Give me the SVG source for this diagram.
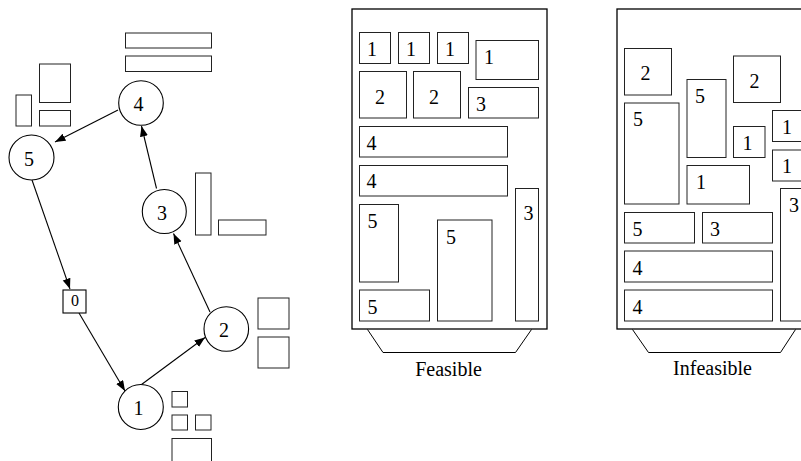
<svg xmlns="http://www.w3.org/2000/svg" width="801" height="461" viewBox="0 0 801 461">
<style>
text{font-family:"Liberation Serif","Times New Roman",serif;font-size:20px;fill:#000}
.c{text-anchor:middle}
.n{fill:#fff;stroke:#000;stroke-width:1.1}
.b{fill:none;stroke:#222;stroke-width:1}
.o{fill:none;stroke:#000;stroke-width:1.3}
.e{stroke:#000;stroke-width:1.1;fill:none;marker-end:url(#ah)}
</style>
<defs>
<marker id="ah" markerUnits="userSpaceOnUse" markerWidth="11" markerHeight="9" refX="10.5" refY="4" orient="auto">
<path d="M0,0 L10.5,4 L0,8 z" fill="#000"/>
</marker>
</defs>
<g id="connectors">
<line class="e" x1="32" y1="180" x2="70" y2="289"/>
<line class="e" x1="79" y1="313" x2="125" y2="391"/>
<line class="e" x1="141.5" y1="384.5" x2="205" y2="337.5"/>
<line class="e" x1="210" y1="312" x2="173.5" y2="233.5"/>
<line class="e" x1="156.5" y1="188.5" x2="141.5" y2="126"/>
<line class="e" x1="118" y1="110" x2="55" y2="142"/>
</g>
<g id="node5"><circle class="n" cx="31.5" cy="157.5" r="22.5"/><text class="c" x="29" y="165.5">5</text></g>
<g id="node4"><circle class="n" cx="141" cy="103" r="22.3"/><text class="c" x="138.5" y="110.7">4</text></g>
<g id="node3"><circle class="n" cx="164.3" cy="211.5" r="22"/><text class="c" x="162" y="219.5">3</text></g>
<g id="node2"><circle class="n" cx="226.3" cy="329" r="22.3"/><text class="c" x="224" y="336.7">2</text></g>
<g id="node1"><circle class="n" cx="140.8" cy="407" r="22.5"/><text class="c" x="138.5" y="415">1</text></g>
<g id="node0"><rect class="n" x="63" y="290" width="23" height="23"/><text class="c" x="75" y="306" style="font-size:16px">0</text></g>
<g id="pieces-left">
<rect class="b" x="125.5" y="33" width="86" height="15"/>
<rect class="b" x="125.5" y="56" width="86" height="15.5"/>
<rect class="b" x="39.5" y="64" width="31" height="38.5"/>
<rect class="b" x="16" y="95" width="15.5" height="31"/>
<rect class="b" x="39.5" y="110.5" width="31" height="15.5"/>
<rect class="b" x="195.5" y="173" width="15.5" height="62"/>
<rect class="b" x="218.5" y="220" width="47.5" height="15"/>
<rect class="b" x="258" y="298" width="31" height="31"/>
<rect class="b" x="258" y="337" width="31" height="31"/>
<rect class="b" x="172" y="391.5" width="15.5" height="15.5"/>
<rect class="b" x="172" y="415" width="15.5" height="15"/>
<rect class="b" x="195.5" y="415" width="15.5" height="15"/>
<rect class="b" x="172" y="438.5" width="39.5" height="40"/>
</g>
<g id="feasible">
<rect class="o" x="352" y="9" width="195" height="320"/>
<polyline class="o" points="367.5,329.5 383,352.5 515.5,352.5 531.5,329.5" style="stroke-width:1"/>
<text class="c" x="448.5" y="376">Feasible</text>
<rect class="b" x="359.5" y="32.5" width="31" height="31"/><text x="367" y="56">1</text>
<rect class="b" x="398.5" y="32.5" width="31" height="31"/><text x="406" y="56">1</text>
<rect class="b" x="437.5" y="32.5" width="31" height="31"/><text x="445" y="56">1</text>
<rect class="b" x="476" y="40.5" width="62.5" height="39"/><text x="484" y="64">1</text>
<rect class="b" x="359.5" y="71.5" width="47" height="46.5"/><text x="375" y="103.5">2</text>
<rect class="b" x="413.5" y="71.5" width="47" height="46.5"/><text x="429" y="103.5">2</text>
<rect class="b" x="468.5" y="87.5" width="70" height="30.5"/><text x="476" y="111">3</text>
<rect class="b" x="359.5" y="126.5" width="148" height="30.5"/><text x="366.5" y="149.5">4</text>
<rect class="b" x="359.5" y="165.5" width="148" height="30.5"/><text x="366.5" y="188">4</text>
<rect class="b" x="515.5" y="188.5" width="23" height="132.5"/><text x="523.5" y="219.5">3</text>
<rect class="b" x="359.5" y="204.5" width="39" height="77.5"/><text x="367.5" y="227.5">5</text>
<rect class="b" x="437.5" y="220" width="54.5" height="101"/><text x="446" y="243.5">5</text>
<rect class="b" x="359.5" y="290" width="70" height="31"/><text x="367.5" y="313.5">5</text>
</g>
<g id="infeasible">
<rect class="o" x="617" y="9" width="195" height="320"/>
<polyline class="o" points="632.5,329.5 648.5,352.5 780.5,352.5 795.5,329.5" style="stroke-width:1"/>
<text class="c" x="712.5" y="375">Infeasible</text>
<rect class="b" x="624.5" y="48.5" width="47" height="46.5"/><text x="640.5" y="80">2</text>
<rect class="b" x="624.5" y="103" width="54.5" height="101"/><text x="633" y="126">5</text>
<rect class="b" x="687" y="79.5" width="39" height="78"/><text x="695" y="102.5">5</text>
<rect class="b" x="733.5" y="56" width="47" height="46.5"/><text x="749.5" y="87.5">2</text>
<rect class="b" x="733.5" y="126.5" width="31.5" height="31"/><text x="742.5" y="150">1</text>
<rect class="b" x="772.5" y="110.5" width="32" height="31"/><text x="782" y="133.5">1</text>
<rect class="b" x="772.5" y="150" width="32" height="31"/><text x="782" y="173">1</text>
<rect class="b" x="780.5" y="188.5" width="24" height="132.5"/><text x="789" y="211.5">3</text>
<rect class="b" x="687" y="165.5" width="62.5" height="38.5"/><text x="696" y="188.5">1</text>
<rect class="b" x="624.5" y="212.5" width="70" height="30.5"/><text x="632.5" y="236">5</text>
<rect class="b" x="702.5" y="212.5" width="70" height="30.5"/><text x="710" y="236">3</text>
<rect class="b" x="624.5" y="251" width="148" height="31"/><text x="632.5" y="275">4</text>
<rect class="b" x="624.5" y="290" width="148" height="31"/><text x="632.5" y="313.5">4</text>
</g>
</svg>
